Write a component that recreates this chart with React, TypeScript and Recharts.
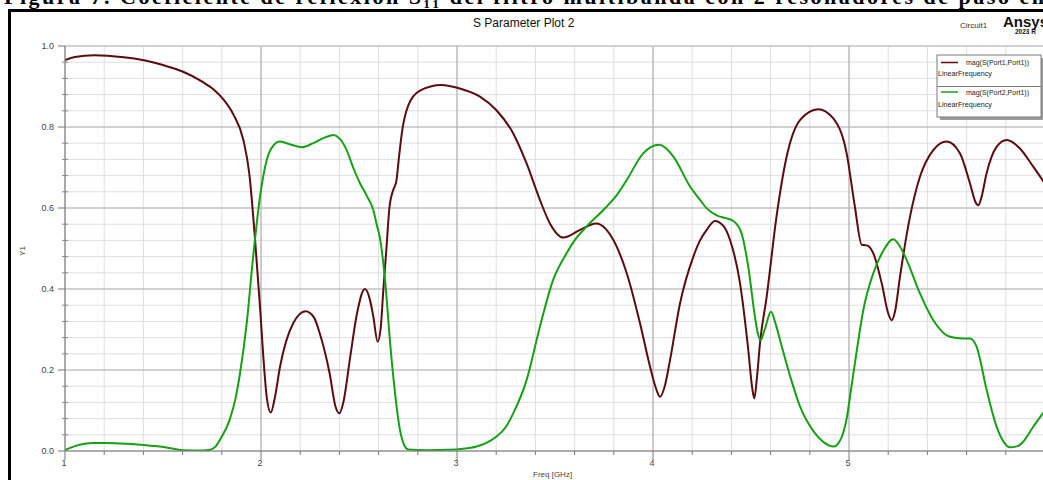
import React from 'react';
import { LineChart, Line, XAxis, YAxis, CartesianGrid } from 'recharts';

// ---- data ----
const s11Freq = [1.0, 1.05, 1.15, 1.3, 1.41, 1.5, 1.6, 1.7, 1.76, 1.81, 1.86, 1.91, 1.94, 1.97, 1.995, 2.012, 2.03, 2.05, 2.07, 2.097, 2.165, 2.228, 2.27, 2.3, 2.35, 2.38, 2.4, 2.42, 2.455, 2.49, 2.53, 2.555, 2.573, 2.595, 2.61, 2.624, 2.64, 2.655, 2.675, 2.69, 2.705, 2.72, 2.752, 2.811, 2.92, 3.015, 3.117, 3.2, 3.287, 3.355, 3.423, 3.474, 3.542, 3.628, 3.709, 3.76, 3.798, 3.866, 3.934, 3.985, 4.015, 4.036, 4.06, 4.087, 4.138, 4.206, 4.24, 4.274, 4.316, 4.36, 4.393, 4.444, 4.486, 4.505, 4.517, 4.53, 4.546, 4.58, 4.63, 4.682, 4.75, 4.843, 4.92, 4.988, 5.03, 5.065, 5.085, 5.099, 5.124, 5.167, 5.2, 5.218, 5.235, 5.26, 5.311, 5.362, 5.43, 5.498, 5.566, 5.617, 5.645, 5.66, 5.675, 5.702, 5.753, 5.805, 5.872, 5.94, 6.0];
const s11Mag = [0.965, 0.973, 0.977, 0.972, 0.964, 0.953, 0.937, 0.912, 0.892, 0.867, 0.83, 0.768, 0.686, 0.52, 0.356, 0.232, 0.13, 0.095, 0.13, 0.208, 0.316, 0.345, 0.33, 0.29, 0.192, 0.11, 0.093, 0.12, 0.232, 0.34, 0.4, 0.375, 0.332, 0.27, 0.3, 0.397, 0.5, 0.6, 0.645, 0.665, 0.73, 0.79, 0.854, 0.89, 0.904, 0.895, 0.875, 0.842, 0.784, 0.71, 0.62, 0.562, 0.527, 0.546, 0.562, 0.548, 0.521, 0.439, 0.315, 0.208, 0.155, 0.134, 0.16, 0.225, 0.365, 0.48, 0.52, 0.546, 0.568, 0.555, 0.521, 0.414, 0.25, 0.16, 0.13, 0.18, 0.267, 0.381, 0.578, 0.727, 0.817, 0.844, 0.821, 0.735, 0.603, 0.509, 0.508, 0.506, 0.488, 0.414, 0.34, 0.323, 0.345, 0.43, 0.578, 0.677, 0.743, 0.764, 0.735, 0.661, 0.615, 0.607, 0.625, 0.686, 0.751, 0.768, 0.747, 0.702, 0.66];

const s21Freq = [1.0, 1.05, 1.1, 1.145, 1.2, 1.315, 1.4, 1.485, 1.56, 1.6, 1.7, 1.74, 1.77, 1.79, 1.84, 1.87, 1.893, 1.927, 1.96, 1.995, 2.029, 2.06, 2.097, 2.15, 2.208, 2.267, 2.33, 2.37, 2.4, 2.437, 2.47, 2.505, 2.54, 2.573, 2.59, 2.607, 2.633, 2.66, 2.68, 2.709, 2.73, 2.75, 2.85, 2.947, 3.02, 3.1, 3.15, 3.2, 3.25, 3.287, 3.355, 3.423, 3.49, 3.559, 3.6, 3.661, 3.763, 3.82, 3.866, 3.95, 4.032, 4.104, 4.189, 4.24, 4.274, 4.325, 4.37, 4.41, 4.435, 4.452, 4.486, 4.52, 4.535, 4.549, 4.57, 4.602, 4.625, 4.648, 4.7, 4.75, 4.82, 4.87, 4.923, 4.95, 4.97, 4.99, 5.005, 5.04, 5.073, 5.124, 5.17, 5.226, 5.26, 5.294, 5.362, 5.43, 5.515, 5.58, 5.617, 5.651, 5.702, 5.753, 5.79, 5.821, 5.86, 5.889, 5.94, 6.0];
const s21Mag = [0.002, 0.012, 0.018, 0.02, 0.02, 0.018, 0.015, 0.011, 0.005, 0.002, 0.001, 0.003, 0.012, 0.027, 0.077, 0.13, 0.192, 0.315, 0.48, 0.628, 0.718, 0.752, 0.764, 0.757, 0.75, 0.76, 0.775, 0.78, 0.772, 0.743, 0.7, 0.661, 0.63, 0.595, 0.56, 0.525, 0.422, 0.26, 0.16, 0.052, 0.015, 0.004, 0.002, 0.003, 0.005, 0.011, 0.02, 0.035, 0.06, 0.093, 0.175, 0.307, 0.422, 0.488, 0.52, 0.554, 0.603, 0.635, 0.669, 0.735, 0.756, 0.727, 0.653, 0.62, 0.599, 0.582, 0.575, 0.568, 0.555, 0.537, 0.455, 0.332, 0.29, 0.274, 0.3, 0.344, 0.315, 0.274, 0.184, 0.11, 0.048, 0.022, 0.011, 0.022, 0.044, 0.085, 0.134, 0.249, 0.348, 0.439, 0.49, 0.523, 0.505, 0.472, 0.389, 0.323, 0.282, 0.278, 0.278, 0.258, 0.151, 0.06, 0.022, 0.009, 0.012, 0.023, 0.06, 0.1];

const seriesNames = ['mag(S(Port1,Port1))', 'mag(S(Port2,Port1))'];
const seriesSub = 'LinearFrequency';
const seriesColors = ['#5a0c10', '#16a016'];

const xMajorTicks = [1, 2, 3, 4, 5];
const xGridMajor = [1, 2, 3, 4, 5, 6];
const xAllTicks = [1, 1.2, 1.4, 1.6, 1.8, 2, 2.2, 2.4, 2.6, 2.8, 3, 3.2, 3.4, 3.6, 3.8, 4, 4.2, 4.4, 4.6, 4.8, 5, 5.2, 5.4, 5.6, 5.8];
const yMajorTicks = [0, 0.2, 0.4, 0.6, 0.8, 1.0];
const yAllTicks = [0, 0.04, 0.08, 0.12, 0.16, 0.2, 0.24, 0.28, 0.32, 0.36, 0.4, 0.44, 0.48, 0.52, 0.56, 0.6, 0.64, 0.68, 0.72, 0.76, 0.8, 0.84, 0.88, 0.92, 0.96, 1.0];

const caption = 'Figura 7. Coeficiente de reflexión S₁₁ del filtro multibanda con 2 resonadores de paso en la';
const title = 'S Parameter Plot 2';
const xLabel = 'Freq [GHz]';
const yLabel = 'Y1';

const s11Data = s11Freq.map((f, i) => ({ f, v: s11Mag[i] }));
const s21Data = s21Freq.map((f, i) => ({ f, v: s21Mag[i] }));

const isMajor = (v: number, majors: number[]) => majors.some((m) => Math.abs(m - v) < 1e-6);

const YTick = (props: any) => {
  const { x, y, payload } = props;
  const major = isMajor(payload.value, yMajorTicks);
  if (major) {
    return (
      <g>
        <line x1={x - 7} y1={y} x2={x} y2={y} stroke="#777" strokeWidth={1} />
        <text x={x - 11} y={y + 3} textAnchor="end" fontSize={9} fontFamily="Liberation Sans, Arial" fill="#444">
          {payload.value.toFixed(1)}
        </text>
      </g>
    );
  }
  return <line x1={x - 3} y1={y} x2={x + 3} y2={y} stroke="#888" strokeWidth={1} />;
};

const XTick = (props: any) => {
  const { x, y, payload } = props;
  const major = isMajor(payload.value, xMajorTicks);
  if (major) {
    return (
      <g>
        <line x1={x} y1={y} x2={x} y2={y + 9} stroke="#777" strokeWidth={1} />
        <text x={x - 1} y={y + 15} textAnchor="middle" fontSize={9} fontFamily="Liberation Sans, Arial" fill="#444">
          {String(payload.value)}
        </text>
      </g>
    );
  }
  return <line x1={x} y1={y} x2={x} y2={y + 4} stroke="#777" strokeWidth={1} />;
};

export default function App() {
  return (
    <div style={{ position: 'fixed', left: 0, top: 0, width: 1043, height: 480, overflow: 'hidden', background: '#fff' }}>
      <div style={{ position: 'absolute', left: 8, top: 9, width: 1200, height: 600, borderLeft: '3px solid #000', borderTop: '3px solid #000', boxSizing: 'border-box' }} />
      <div style={{ position: 'absolute', left: 0, top: 0 }}>
        <LineChart width={1060} height={480} margin={{ top: 46, right: 15, bottom: 0, left: 0 }}>
          <CartesianGrid stroke="#dedede" strokeWidth={1} horizontalValues={yAllTicks} verticalValues={xAllTicks} />
          <CartesianGrid stroke="#b4b4b4" strokeWidth={1.2} horizontalValues={yMajorTicks} verticalValues={xGridMajor} />
          <XAxis
            dataKey="f"
            type="number"
            domain={[1, 6]}
            ticks={xAllTicks}
            interval={0}
            height={29}
            tickSize={0}
            tickMargin={0}
            stroke="#888"
            tick={<XTick />}
            allowDataOverflow
          />
          <YAxis
            type="number"
            domain={[0, 1]}
            ticks={yAllTicks}
            interval={0}
            width={65}
            tickSize={0}
            tickMargin={0}
            stroke="#888"
            tick={<YTick />}
            allowDataOverflow
          />
          <Line data={s11Data} dataKey="v" type="monotone" stroke={seriesColors[0]} strokeWidth={2} dot={false} isAnimationActive={false} />
          <Line data={s21Data} dataKey="v" type="monotone" stroke={seriesColors[1]} strokeWidth={2} dot={false} isAnimationActive={false} />
        </LineChart>
      </div>
      <svg width={1043} height={480} style={{ position: 'absolute', left: 0, top: 0, pointerEvents: 'none' }}>
        <text x={4} y={4} fontSize={22} fontWeight="bold" fontFamily="Liberation Serif, Times New Roman, serif" fill="#000" textLength={1070} lengthAdjust="spacing">
          {caption}
        </text>
        <text x={473} y={27} fontSize={12} fontFamily="Liberation Sans, Arial" fill="#111">{title}</text>
        <text x={960} y={28} fontSize={8} fontFamily="Liberation Sans, Arial" fill="#333">Circuit1</text>
        <text x={1003} y={27} fontSize={15} fontWeight="bold" fontFamily="Liberation Sans, Arial" fill="#111">Ansys</text>
        <text x={1015} y={34} fontSize={6.5} fontWeight="bold" fontFamily="Liberation Sans, Arial" fill="#111">2023 R</text>
        <text x={533} y={477} fontSize={8} fontFamily="Liberation Sans, Arial" fill="#444">{xLabel}</text>
        <text x={25} y={251} fontSize={8} fontFamily="Liberation Sans, Arial" fill="#444" transform="rotate(-90 25 251)" textAnchor="middle">{yLabel}</text>
        {/* legend */}
        <rect x={940} y={58} width={104} height={62} fill="#9a9a9a" />
        <rect x={937} y={55} width={104} height={62} fill="#fff" stroke="#7a7a7a" strokeWidth={1} />
        <line x1={937} y1={86.5} x2={1041} y2={86.5} stroke="#7a7a7a" strokeWidth={1} />
        {seriesNames.map((n, i) => (
          <g key={n}>
            <line x1={941} y1={62.5 + i * 29.5} x2={958} y2={62.5 + i * 29.5} stroke={seriesColors[i]} strokeWidth={1.5} />
            <text x={966} y={65 + i * 29.5} fontSize={7} fontFamily="Liberation Sans, Arial" fill="#222">{n}</text>
            <text x={938} y={75.5 + i * 31} fontSize={7.2} fontFamily="Liberation Sans, Arial" fill="#222">{seriesSub}</text>
          </g>
        ))}
      </svg>
    </div>
  );
}
